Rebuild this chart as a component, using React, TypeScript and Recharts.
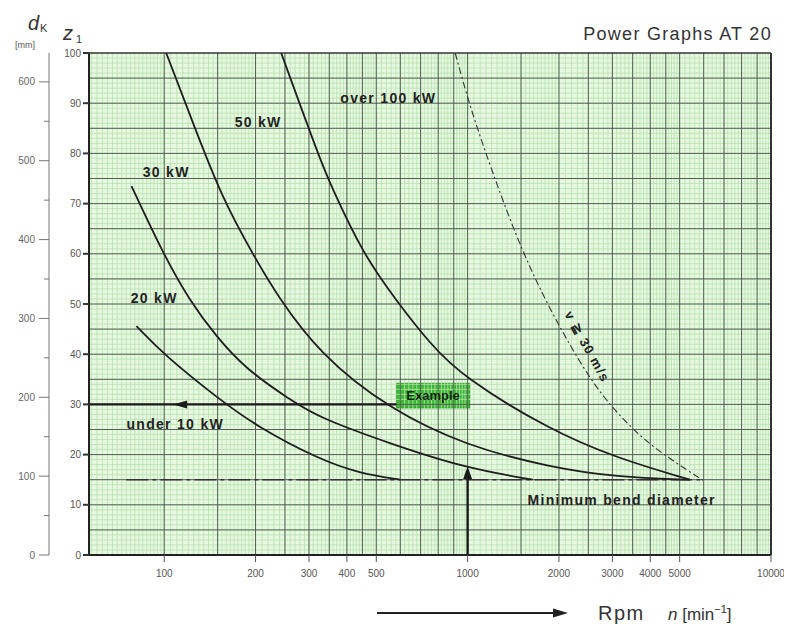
import React from 'react';
import { LineChart, Line, XAxis, YAxis, CartesianGrid, ReferenceLine, ReferenceArea, ReferenceDot } from 'recharts';

const FONT = '"Liberation Sans", Arial, sans-serif';
const Z = 'a';
const DK = 'b';

// axis ticks
const rpmTicks = [100, 200, 300, 400, 500, 1000, 2000, 3000, 4000, 5000, 10000];
const z1Ticks = [0, 10, 20, 30, 40, 50, 60, 70, 80, 90, 100];
const dkTicks = [0, 50, 100, 150, 200, 250, 300, 350, 400, 450, 500, 550, 600];

// power curves, n [min-1] vs z1
const line20 = [
  { n: 81, z: 45.6 }, { n: 101, z: 39.6 }, { n: 152, z: 31 }, { n: 201, z: 25.7 },
  { n: 325, z: 19 }, { n: 440, z: 16.3 }, { n: 600, z: 15 },
];
const line30 = [
  { n: 78, z: 73.5 }, { n: 100, z: 59.6 }, { n: 121, z: 50.8 }, { n: 148, z: 43.6 },
  { n: 186, z: 37 }, { n: 259, z: 31 }, { n: 325, z: 27.3 }, { n: 566, z: 22 },
  { n: 990, z: 17.3 }, { n: 1640, z: 15 },
];
const line50 = [
  { n: 101.5, z: 100 }, { n: 121, z: 88 }, { n: 155, z: 71 }, { n: 200, z: 59 },
  { n: 234, z: 52 }, { n: 325, z: 40 }, { n: 553, z: 29 }, { n: 993, z: 21.7 },
  { n: 1866, z: 17.5 }, { n: 3100, z: 15.5 }, { n: 5400, z: 15 },
];
const line100 = [
  { n: 243, z: 100 }, { n: 325, z: 79 }, { n: 358, z: 73 }, { n: 450, z: 60.2 },
  { n: 583, z: 50.6 }, { n: 749, z: 42.2 }, { n: 962, z: 35.5 }, { n: 1866, z: 24.9 },
  { n: 3100, z: 19.3 }, { n: 5400, z: 15 },
];
const speedLimit = [
  { n: 910, z: 100 }, { n: 1016, z: 89.4 }, { n: 1209, z: 76.1 }, { n: 1485, z: 61.6 },
  { n: 1865, z: 48.8 }, { n: 2527, z: 34.9 }, { n: 3102, z: 28.3 }, { n: 3987, z: 21.7 },
  { n: 6000, z: 14.8 },
];
const minBend = [{ n: 75, z: 15 }, { n: 6000, z: 15 }];
const exampleH = [{ n: 56.5, z: 30 }, { n: 583, z: 30 }];
const exampleV = [{ n: 1000, z: 0 }, { n: 1000, z: 16 }];

// graph paper
const majorRpm = [100, 150, 200, 250, 300, 350, 400, 450, 500, 600, 700, 800, 900, 1000, 1500, 2000, 2500, 3000, 3500, 4000, 4500, 5000, 6000, 7000, 8000, 9000];
const majorZ = [5, 10, 15, 20, 25, 30, 35, 40, 45, 50, 55, 60, 65, 70, 75, 80, 85, 90, 95];

function steps(from: number, to: number, step: number) {
  const out: number[] = [];
  for (let v = from; v < to - 1e-9; v += step) out.push(+v.toFixed(2));
  return out;
}
const fineRpm = [
  ...steps(57.5, 100, 2.5), ...steps(100, 200, 5), ...steps(200, 500, 10), ...steps(500, 1000, 20),
  ...steps(1000, 2000, 50), ...steps(2000, 5000, 100), ...steps(5000, 10000, 200),
];
const fineZ = steps(1, 100, 1);

const notes = [
  { text: '20 kW', n: 92.7, z: 51.2 },
  { text: '30 kW', n: 101.5, z: 76.3 },
  { text: '50 kW', n: 204, z: 86.3 },
  { text: 'over 100 kW', n: 548, z: 91 },
  { text: 'under 10 kW', n: 108.7, z: 26.1 },
  { text: 'Minimum bend diameter', n: 3220, z: 11 },
];

const DkTick = (props: any) => {
  const { x, y, payload } = props;
  const major = payload.value % 100 === 0;
  return (
    <g>
      <line x1={x - (major ? 10 : 5)} x2={x} y1={y} y2={y} stroke="#777" strokeWidth={1} />
      {major && (
        <text x={x - 14} y={y} dy={3.5} textAnchor="end" fontSize={10} fill="#666" fontFamily={FONT}>
          {payload.value}
        </text>
      )}
    </g>
  );
};

const noteShape = (text: string, rotate = 0, size = 14) => (p: any) => (
  <text
    x={p.cx}
    y={p.cy}
    textAnchor="middle"
    dominantBaseline="central"
    fontFamily={FONT}
    fontWeight="bold"
    fontSize={size}
    letterSpacing={1.3}
    fill="#222"
    transform={rotate ? `rotate(${rotate} ${p.cx} ${p.cy})` : undefined}
  >
    {text}
  </text>
);

export default function App() {
  return (
    <div style={{ position: 'relative', width: 784, height: 616 }}>
      <LineChart width={784} height={616} margin={{ top: 45, right: 21, bottom: 39, left: 0 }}>
        <CartesianGrid yAxisId={Z} horizontal={false} vertical={false} fill="#e7f7e2" />
        {fineRpm.map((v) => (
          <ReferenceLine key={'fx' + v} yAxisId={Z} x={v} stroke="#b6e2ad" strokeWidth={0.8} ifOverflow="visible" />
        ))}
        {fineZ.map((v) => (
          <ReferenceLine key={'fy' + v} yAxisId={Z} y={v} stroke="#b6e2ad" strokeWidth={0.8} ifOverflow="visible" />
        ))}
        {majorRpm.map((v) => (
          <ReferenceLine key={'mx' + v} yAxisId={Z} x={v} stroke="#435443" strokeWidth={0.9} ifOverflow="visible" />
        ))}
        {majorZ.map((v) => (
          <ReferenceLine key={'my' + v} yAxisId={Z} y={v} stroke="#435443" strokeWidth={0.9} ifOverflow="visible" />
        ))}
        <ReferenceLine yAxisId={Z} y={100} stroke="#333" strokeWidth={1.5} ifOverflow="visible" />
        <ReferenceLine yAxisId={Z} x={10000} stroke="#333" strokeWidth={2} ifOverflow="visible" />

        <XAxis
          dataKey="n"
          type="number"
          scale="log"
          domain={[56.5, 10000]}
          allowDataOverflow
          ticks={rpmTicks}
          interval={0}
          height={30}
          tickSize={7}
          tickMargin={8}
          tick={{ fontSize: 10, fill: '#555', fontFamily: FONT }}
          tickLine={{ stroke: '#555' }}
          axisLine={{ stroke: '#222', strokeWidth: 2 }}
        />
        <YAxis
          yAxisId={Z}
          type="number"
          domain={[0, 100]}
          allowDataOverflow
          ticks={z1Ticks}
          interval={0}
          width={40}
          tickSize={6}
          tickMargin={2}
          tick={{ fontSize: 10, fill: '#555', fontFamily: FONT }}
          tickLine={{ stroke: '#333', strokeWidth: 2 }}
          axisLine={{ stroke: '#222', strokeWidth: 2 }}
        />
        <YAxis
          yAxisId={DK}
          type="number"
          domain={[0, 636.6]}
          allowDataOverflow
          ticks={dkTicks}
          interval={0}
          width={41}
          tickSize={0}
          tickMargin={0}
          tickLine={false}
          tick={<DkTick />}
          axisLine={{ stroke: '#777', strokeWidth: 1 }}
        />

        <Line yAxisId={Z} data={minBend} dataKey="z" type="linear" stroke="#333" strokeWidth={1.5} strokeDasharray="22 4 4 4" dot={false} isAnimationActive={false} />
        <Line yAxisId={Z} data={speedLimit} dataKey="z" type="basis" stroke="#333" strokeWidth={1.1} strokeDasharray="7 3 2 3" dot={false} isAnimationActive={false} />
        <Line yAxisId={Z} data={line20} dataKey="z" type="basis" stroke="#1e1e1e" strokeWidth={1.8} dot={false} isAnimationActive={false} />
        <Line yAxisId={Z} data={line30} dataKey="z" type="basis" stroke="#1e1e1e" strokeWidth={1.8} dot={false} isAnimationActive={false} />
        <Line yAxisId={Z} data={line50} dataKey="z" type="basis" stroke="#1e1e1e" strokeWidth={1.8} dot={false} isAnimationActive={false} />
        <Line yAxisId={Z} data={line100} dataKey="z" type="basis" stroke="#1e1e1e" strokeWidth={1.8} dot={false} isAnimationActive={false} />
        <Line yAxisId={Z} data={exampleH} dataKey="z" type="linear" stroke="#1a1a1a" strokeWidth={2.2} dot={false} isAnimationActive={false} />
        <Line yAxisId={Z} data={exampleV} dataKey="z" type="linear" stroke="#1a1a1a" strokeWidth={2.4} dot={false} isAnimationActive={false} />

        <ReferenceDot
          yAxisId={Z}
          x={107}
          y={30}
          r={0}
          shape={(p: any) => <polygon points={`${p.cx},${p.cy} ${p.cx + 14},${p.cy - 4} ${p.cx + 14},${p.cy + 4}`} fill="#1a1a1a" />}
        />
        <ReferenceDot
          yAxisId={Z}
          x={1000}
          y={17.7}
          r={0}
          shape={(p: any) => <polygon points={`${p.cx},${p.cy} ${p.cx - 4.5},${p.cy + 13} ${p.cx + 4.5},${p.cy + 13}`} fill="#1a1a1a" />}
        />
        <ReferenceArea
          yAxisId={Z}
          x1={583}
          x2={1016}
          y1={29.3}
          y2={34.2}
          fill="#3cb934"
          fillOpacity={1}
          stroke="#2f9a28"
          label={{ value: 'Example', position: 'center', fill: '#13260c', fontSize: 13, fontWeight: 'bold', fontFamily: FONT }}
        />

        {notes.map((d) => (
          <ReferenceDot key={d.text} yAxisId={Z} x={d.n} y={d.z} r={0} shape={noteShape(d.text)} />
        ))}
        <ReferenceDot yAxisId={Z} x={2480} y={41.5} r={0} shape={noteShape('v ≧ 30 m/s', 61, 13)} />
      </LineChart>

      <svg width={784} height={616} style={{ position: 'absolute', left: 0, top: 0, pointerEvents: 'none' }}>
        <text x={20} y={22} fontSize={20} fontStyle="italic" fill="#333" fontFamily={FONT}>d</text>
        <text x={32} y={24} fontSize={11} fill="#333" fontFamily={FONT}>K</text>
        <text x={7} y={40} fontSize={9} fill="#555" fontFamily={FONT}>[mm]</text>
        <text x={55} y={32} fontSize={20} fontStyle="italic" fill="#333" fontFamily={FONT}>z</text>
        <text x={68} y={35} fontSize={11} fill="#333" fontFamily={FONT}>1</text>

        <text x={764} y={32} textAnchor="end" fontSize={18} letterSpacing={1.3} fill="#333" fontFamily={FONT}>
          Power Graphs AT 20
        </text>

        <line x1={369} y1={605} x2={548} y2={605} stroke="#222" strokeWidth={2} />
        <polygon points="560,605 545,600.5 545,609.5" fill="#222" />
        <text x={590} y={612} fontSize={20} letterSpacing={1.5} fill="#333" fontFamily={FONT}>Rpm</text>
        <text x={660} y={612} fontSize={17} fill="#333" fontFamily={FONT}>
          <tspan fontStyle="italic">n</tspan>
          <tspan> [min</tspan>
          <tspan fontSize={11} dy={-7}>−1</tspan>
          <tspan dy={7}>]</tspan>
        </text>
      </svg>
    </div>
  );
}
